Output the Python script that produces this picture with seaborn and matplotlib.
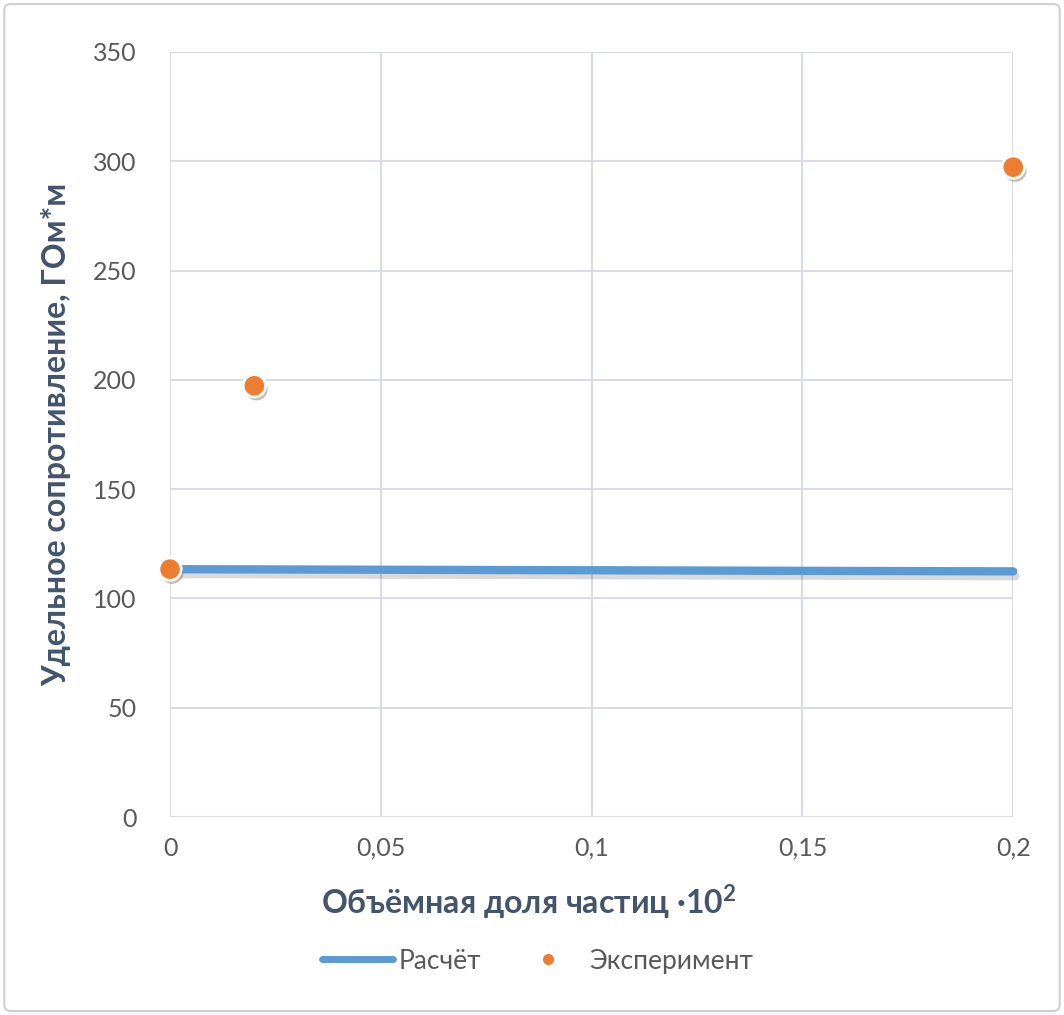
import matplotlib
matplotlib.use("Agg")
import matplotlib.pyplot as plt
import matplotlib.patheffects as pe
from matplotlib.patches import FancyBboxPatch
from matplotlib.lines import Line2D
import seaborn as sns
import pandas as pd

# data
calc_x = [0.0, 0.02, 0.2]
calc_y = [113.4, 113.3, 112.4]
exp_x = [0.0, 0.02, 0.2]
exp_y = [113.4, 197.3, 297.3]
x_ticks = [0, 0.05, 0.1, 0.15, 0.2]
x_tick_labels = ["0", "0,05", "0,1", "0,15", "0,2"]
y_ticks = [0, 50, 100, 150, 200, 250, 300, 350]

sns.set_theme(style="white")
plt.rcParams["font.family"] = ["Lato", "DejaVu Sans"]

tick_color = "#595959"
title_color = "#44546A"
blue = "#5B9BD5"
orange = "#ED7D31"
grid_color = "#D9DDE3"

fig = plt.figure(figsize=(10.64, 10.15), dpi=100)
ax = fig.add_axes([0.1598, 0.195, 0.7925, 0.7538])

# light frame around the whole chart
fig.patches.append(FancyBboxPatch((0.004, 0.004), 0.992, 0.992,
                                  boxstyle="round,pad=0,rounding_size=0.006",
                                  transform=fig.transFigure, fill=False,
                                  edgecolor="#D0D0D0", linewidth=1.5))

calc = pd.DataFrame({"x": calc_x, "y": calc_y})
exp = pd.DataFrame({"x": exp_x, "y": exp_y})

shadow = [pe.SimpleLineShadow(offset=(1.5, -3.5), shadow_color="black", alpha=0.15), pe.Normal()]
sns.lineplot(data=calc, x="x", y="y", ax=ax, color=blue, linewidth=6,
             path_effects=shadow, clip_on=False, zorder=3, legend=False)

sns.scatterplot(data=exp, x="x", y="y", ax=ax, color=orange, s=260,
                edgecolor="white", linewidth=2, clip_on=False, zorder=4, legend=False)
for coll in ax.collections:
    coll.set_path_effects([pe.SimplePatchShadow(offset=(1.5, -2.5), alpha=0.3), pe.Normal()])

ax.set_xlim(0, 0.2)
ax.set_ylim(0, 350)
ax.set_xticks(x_ticks)
ax.set_xticklabels(x_tick_labels)
ax.set_yticks(y_ticks)
ax.tick_params(axis="both", length=0, labelsize=18, labelcolor=tick_color)
ax.tick_params(axis="x", pad=14)
ax.tick_params(axis="y", pad=24)
ax.grid(True, color=grid_color, linewidth=1.5)
ax.set_axisbelow(True)
for s in ax.spines.values():
    s.set_visible(False)

ax.set_xlabel("Объёмная доля частиц ·10$^{\\mathregular{2}}$", fontsize=23, fontweight="bold",
              color=title_color, labelpad=16)
ax.xaxis.label.set_x(0.425)
ax.set_ylabel("Удельное сопротивление, ГОм*м", fontsize=23, fontweight="bold",
              color=title_color, labelpad=16)

handles = [Line2D([], [], color=blue, linewidth=5),
           Line2D([], [], color=orange, marker="o", linestyle="none", markersize=9,
                  markeredgecolor="white")]
fig.legend(handles, ["Расчёт", "Эксперимент"], loc="center", bbox_to_anchor=(0.505, 0.053),
           ncol=2, frameon=False, fontsize=19, labelcolor=tick_color,
           handlelength=2.7, handletextpad=0.2, columnspacing=1.2)

fig.savefig("out.png", dpi=100)
